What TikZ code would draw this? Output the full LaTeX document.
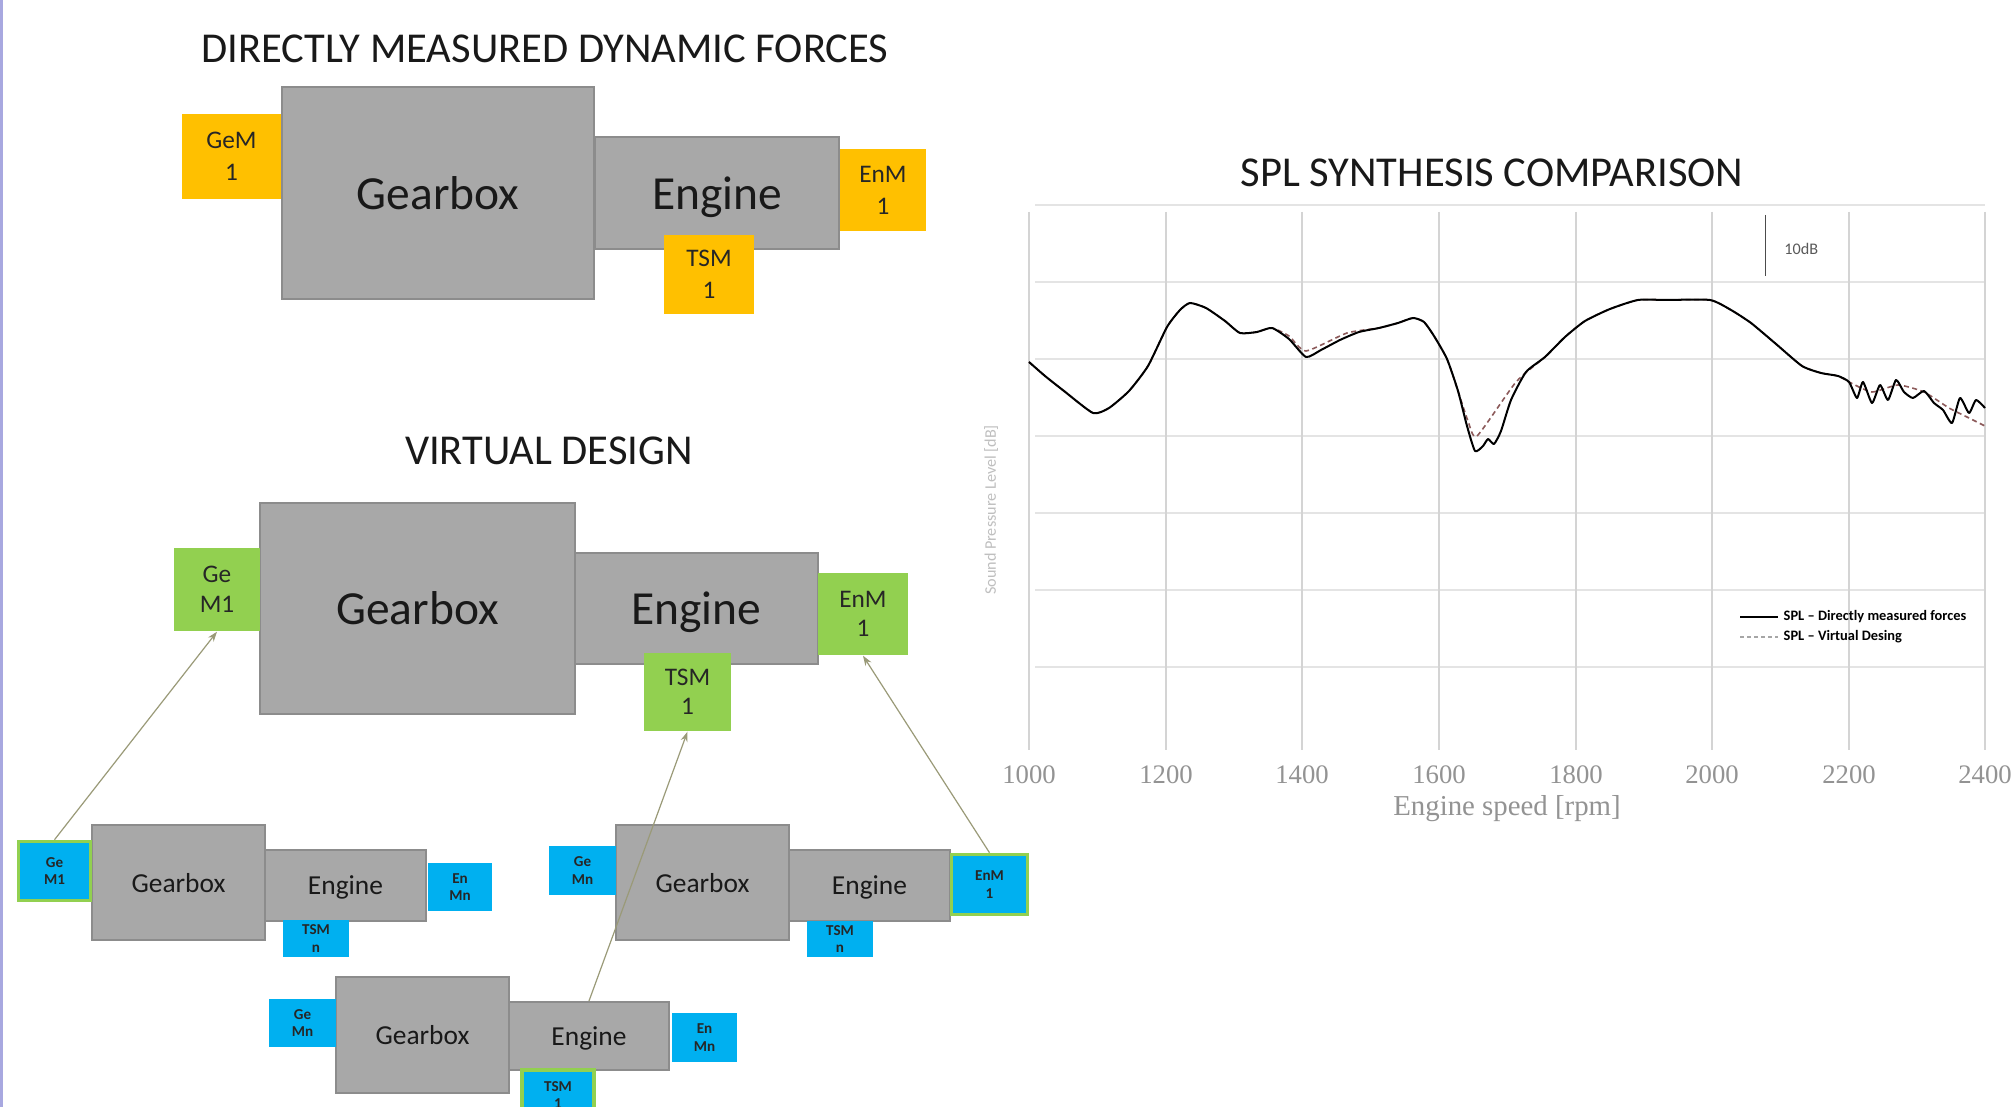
\documentclass[tikz,border=0pt]{standalone}
\usepackage{fontspec}
\setmainfont{Carlito}
\newfontfamily\seriffont{Liberation Serif}
\usetikzlibrary{arrows.meta}
\definecolor{boxgray}{HTML}{A8A8A8}
\definecolor{boxedge}{HTML}{8C8C8C}
\definecolor{myyellow}{HTML}{FFC000}
\definecolor{mygreen}{HTML}{92D050}
\definecolor{myblue}{HTML}{00B0F0}
\definecolor{connc}{HTML}{9A9A78}
\definecolor{gridc}{HTML}{D4D4D4}
\definecolor{hgridc}{HTML}{E4E4E4}
\definecolor{tickc}{HTML}{939393}
\definecolor{dashc}{HTML}{8C5A5A}
\definecolor{edgec}{HTML}{A8A8E0}
\begin{document}
\begin{tikzpicture}[x=0.01cm,y=-0.01cm,
  gbox/.style={draw=boxedge, line width=0.02cm, fill=boxgray, inner sep=0pt, text depth=0pt, text=black!90},
  bigt/.style={font=\fontsize{13.5}{16}\selectfont},
  smallt/.style={font=\fontsize{7.8}{9}\selectfont},
  ybox/.style={fill=myyellow, inner sep=0pt, align=center, text=black!85, font=\fontsize{7.2}{9.1}\selectfont},
  grbox/.style={fill=mygreen, inner sep=0pt, align=center, text=black!85, font=\fontsize{7.2}{8.4}\selectfont},
  blbox/.style={fill=myblue, inner sep=0pt, align=center, text=black!85, font=\fontsize{4.3}{5}\selectfont\bfseries},
  blgbox/.style={blbox, draw=mygreen, line width=0.035cm},
  title/.style={font=\fontsize{12.1}{14}\selectfont, text=black!90},
  conn/.style={draw=connc, line width=0.012cm, -{Stealth[length=0.1cm,width=0.07cm]}},
  tick/.style={font=\seriffont\fontsize{7.6}{9}\selectfont, text=tickc}
]
\useasboundingbox (0,0) rectangle (2011,1107);
\fill[white] (0,0) rectangle (2011,1107);
\fill[edgec] (0,0) rectangle (3,1107);

% ---------- top: directly measured ----------
\node[title] (t1) at (545,49) {DIRECTLY MEASURED DYNAMIC FORCES};
\node[gbox, bigt, minimum width=3.12cm, minimum height=2.12cm] (tGear) at (438,193) {Gearbox};
\node[gbox, bigt, minimum width=2.44cm, minimum height=1.12cm] (tEng) at (717,193) {Engine};
\node[ybox, minimum width=0.99cm, minimum height=0.85cm] (tGeM) at (231.5,156.5) {GeM\\1};
\node[ybox, minimum width=0.86cm, minimum height=0.82cm] (tEnM) at (883,190) {EnM\\1};
\node[ybox, minimum width=0.90cm, minimum height=0.79cm] (tTSM) at (709,274.5) {TSM\\1};

% ---------- middle: virtual design ----------
\node[title] (t2) at (549,451) {VIRTUAL DESIGN};
\node[gbox, bigt, minimum width=3.15cm, minimum height=2.11cm] (mGear) at (417.5,608.5) {Gearbox};
\node[gbox, bigt, minimum width=2.43cm, minimum height=1.11cm] (mEng) at (696.5,608.5) {Engine};
\node[grbox, minimum width=0.86cm, minimum height=0.83cm] (mGeM) at (217,589.5) {Ge\\M1};
\node[grbox, minimum width=0.90cm, minimum height=0.82cm] (mEnM) at (863,614) {EnM\\1};
\node[grbox, minimum width=0.87cm, minimum height=0.78cm] (mTSM) at (687.5,692) {TSM\\1};

% ---------- group A (bottom left) ----------
\node[gbox, smallt, minimum width=1.73cm, minimum height=1.15cm] (aGear) at (178.5,882.5) {Gearbox};
\node[gbox, smallt, minimum width=1.61cm, minimum height=0.71cm] (aEng) at (345.5,885.5) {Engine};
\node[blgbox, minimum width=0.72cm, minimum height=0.59cm] (aGe) at (54.5,871) {Ge\\M1};
\node[blbox, minimum width=0.64cm, minimum height=0.48cm] (aEn) at (460,887) {En\\Mn};
\node[blbox, minimum width=0.66cm, minimum height=0.37cm] (aTSM) at (316,938.5) {TSM\\n};

% ---------- group B (bottom right) ----------
\node[gbox, smallt, minimum width=1.73cm, minimum height=1.15cm] (bGear) at (702.5,882.5) {Gearbox};
\node[gbox, smallt, minimum width=1.61cm, minimum height=0.71cm] (bEng) at (869.5,885.5) {Engine};
\node[blbox, minimum width=0.67cm, minimum height=0.49cm] (bGe) at (582.5,870.5) {Ge\\Mn};
\node[blgbox, minimum width=0.76cm, minimum height=0.60cm] (bEn) at (989.5,884.5) {EnM\\1};
\node[blbox, minimum width=0.66cm, minimum height=0.36cm] (bTSM) at (840,939) {TSM\\n};

% ---------- group C (bottom centre) ----------
\node[gbox, smallt, minimum width=1.73cm, minimum height=1.16cm] (cGear) at (422.5,1035) {Gearbox};
\node[gbox, smallt, minimum width=1.60cm, minimum height=0.68cm] (cEng) at (589,1036) {Engine};
\node[blbox, minimum width=0.67cm, minimum height=0.48cm] (cGe) at (302.5,1023) {Ge\\Mn};
\node[blbox, minimum width=0.65cm, minimum height=0.49cm] (cEn) at (704.5,1037.5) {En\\Mn};
\node[blgbox, minimum width=0.72cm, minimum height=0.50cm] (cTSM) at (558,1095) {TSM\\1};

% ---------- connectors ----------
\draw[conn] (aGe.north) -- (mGeM.south);
\draw[conn] (cEng.north) -- (mTSM.south);
\draw[conn] (bEn.north) -- (mEnM.south);

% ---------- chart ----------
\node[title] (t3) at (1492,173) {SPL SYNTHESIS COMPARISON};
\foreach \y in {205,282,359,436,513,590,667}
  \draw[hgridc, line width=0.015cm] (1035,\y) -- (1985,\y);
\foreach \x in {1029,1166,1302,1439,1576,1712,1849,1985}
  \draw[gridc, line width=0.012cm] (\x,212) -- (\x,750);
\foreach \x/\l in {1029/1000,1166/1200,1302/1400,1439/1600,1576/1800,1712/2000,1849/2200,1985/2400}
  \node[tick] (tk\l) at (\x,775) {\l};
\node[tick, font=\seriffont\fontsize{8.2}{9}\selectfont] (xl) at (1507,809) {Engine speed [rpm]};
\node[rotate=90, text=black!25, font=\fontsize{4.6}{5}\selectfont] (yl) at (991,510) {Sound Pressure Level [dB]};
\draw[black!70, line width=0.01cm] (1765,215) -- (1765,276);
\node[text=black!65, font=\fontsize{4.6}{5}\selectfont, anchor=west] (db) at (1772,249) {10dB};

% virtual design (dashed)
\draw[dashc, line width=0.016cm, dash pattern=on 0.05cm off 0.035cm]
  plot[smooth, tension=0.35] coordinates {
  (1029,362) (1045,376) (1064,391) (1093,413) (1109,408) (1129,391) (1148,366)
  (1167,327) (1180,310) (1190,303) (1206,308) (1225,321) (1240,333) (1257,332)
  (1272,328) (1289,336) (1306,351) (1347,333) (1379,328) (1398,323) (1413,318)
  (1424,322) (1434,336) (1447,359) (1458,391) (1468,421) (1477,436) (1516,382)
  (1545,357) (1565,337) (1585,321) (1610,309) (1638,300) (1667,300) (1710,300)
  (1731,310) (1751,323) (1776,344) (1802,366) (1821,373) (1838,376) (1849,382)
  (1872,392) (1898,385) (1924,392) (1949,408) (1969,418) (1985,426)};
% directly measured (solid)
\draw[black, line width=0.02cm, line join=round]
  plot[smooth, tension=0.35] coordinates {
  (1029,362) (1045,376) (1064,391) (1093,413) (1109,408) (1129,391) (1148,366)
  (1167,327) (1180,310) (1190,303) (1206,308) (1225,321) (1240,333) (1257,332)
  (1272,328) (1289,339) (1306,357) (1321,350) (1340,340) (1359,332) (1379,328)
  (1398,323) (1413,318) (1424,322) (1434,336) (1447,359) (1458,391) (1467,426)
  (1475,451) (1483,446) (1488,439) (1494,444) (1501,431) (1511,400) (1526,372)
  (1545,357) (1565,337) (1585,321) (1610,309) (1638,300) (1667,300) (1710,300)
  (1731,310) (1751,323) (1776,344) (1802,366) (1821,373) (1838,376) (1849,382)
  (1857,398) (1863,382) (1872,403) (1880,385) (1888,400) (1896,380) (1904,392)
  (1913,398) (1924,391) (1934,403) (1943,410) (1952,423) (1960,398) (1969,413)
  (1976,400) (1985,408)};

% legend
\draw[black, line width=0.012cm] (1740,617) -- (1778,617);
\draw[black!35, line width=0.012cm, dash pattern=on 0.04cm off 0.03cm] (1740,637) -- (1778,637);
\node[anchor=west, font=\fontsize{4.1}{5}\selectfont\bfseries, inner sep=0pt] (lg1) at (1783,617) {SPL – Directly measured forces};
\node[anchor=west, font=\fontsize{4.1}{5}\selectfont\bfseries, inner sep=0pt] (lg2) at (1783,637) {SPL – Virtual Desing};
\end{tikzpicture}
\end{document}
